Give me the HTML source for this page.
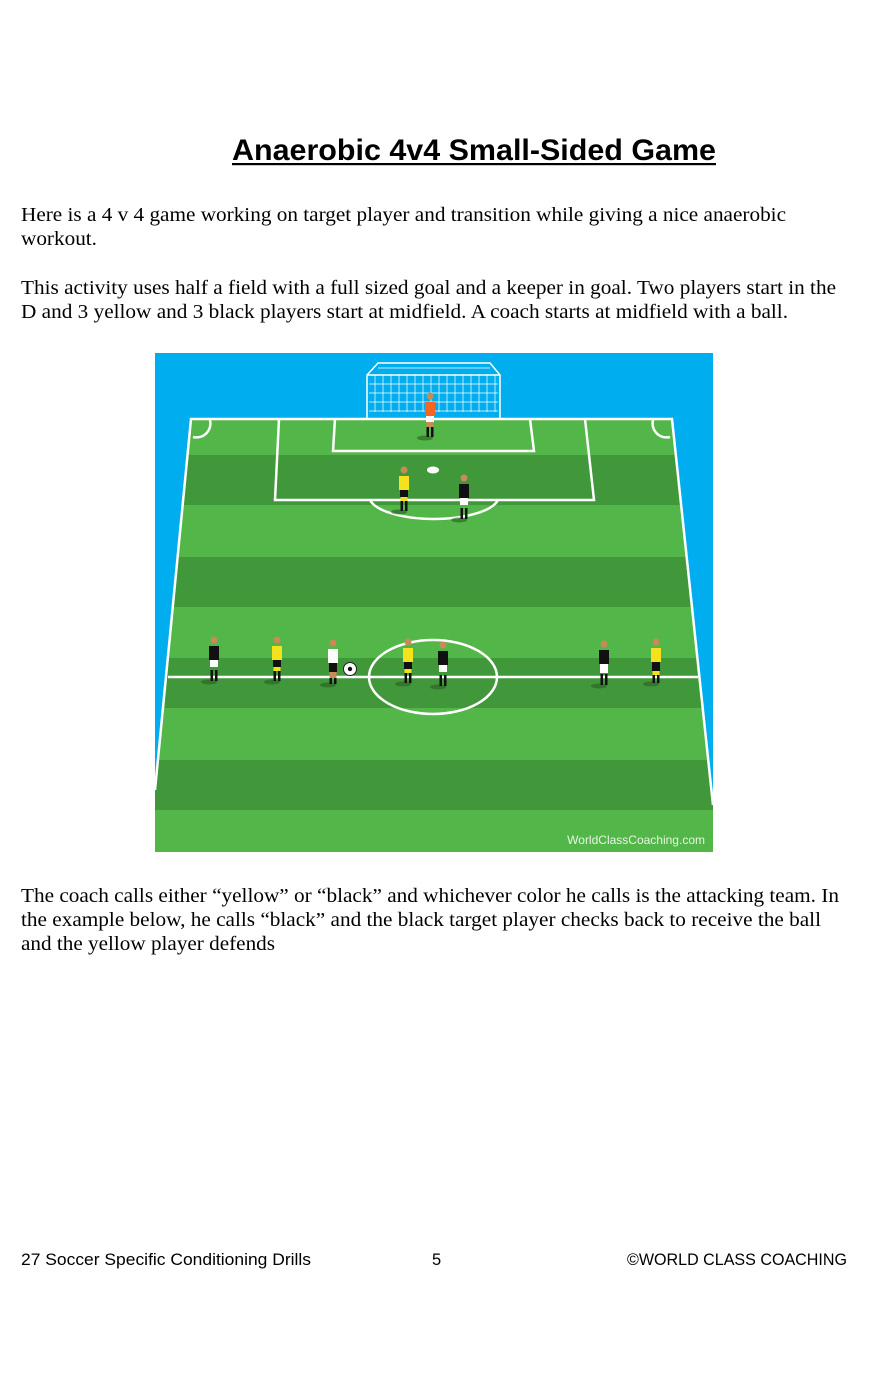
<!DOCTYPE html>
<html><head><meta charset="utf-8"><style>
html,body{margin:0;padding:0;background:#fff;width:891px;height:1400px;overflow:hidden}
svg{display:block}
</style></head><body>
<svg width="891" height="1400" viewBox="0 0 891 1400" xmlns="http://www.w3.org/2000/svg">
<defs>
<g id="pl">
 <ellipse cx="0" cy="2" rx="8" ry="2.5" fill="#2a5e22" opacity="0.6" transform="translate(-5,0)"/>
 <rect x="-3.5" y="-10" width="2.5" height="11" fill="#111"/>
 <rect x="1" y="-10" width="2.5" height="11" fill="#111"/>
 <circle cx="0" cy="-40" r="3.5" fill="#c98a5a"/>
</g>
</defs>
<rect width="891" height="1400" fill="#fff"/>
<!-- title -->
<text x="232" y="160" font-family="Liberation Sans, Arial, sans-serif" font-weight="bold" font-size="30" textLength="484" lengthAdjust="spacingAndGlyphs">Anaerobic 4v4 Small-Sided Game</text>
<rect x="232" y="163" width="484" height="2.2" fill="#000"/>
<g font-family="Liberation Serif, Times New Roman, serif" font-size="20" fill="#000">
<text x="21" y="221" textLength="765" lengthAdjust="spacingAndGlyphs">Here is a 4 v 4 game working on target player and transition while giving a nice anaerobic</text>
<text x="21" y="245" textLength="76" lengthAdjust="spacingAndGlyphs">workout.</text>
<text x="21" y="294" textLength="815" lengthAdjust="spacingAndGlyphs">This activity uses half a field with a full sized goal and a keeper in goal. Two players start in the</text>
<text x="21" y="318" textLength="767" lengthAdjust="spacingAndGlyphs">D and 3 yellow and 3 black players start at midfield. A coach starts at midfield with a ball.</text>
<text x="21" y="902" textLength="818" lengthAdjust="spacingAndGlyphs">The coach calls either “yellow” or “black” and whichever color he calls is the attacking team. In</text>
<text x="21" y="926" textLength="800" lengthAdjust="spacingAndGlyphs">the example below, he calls “black” and the black target player checks back to receive the ball</text>
<text x="21" y="950" textLength="254" lengthAdjust="spacingAndGlyphs">and the yellow player defends</text>
</g>
<g font-family="Liberation Sans, Arial, sans-serif" font-size="16.5" fill="#000">
<text x="21" y="1265" textLength="290" lengthAdjust="spacingAndGlyphs">27 Soccer Specific Conditioning Drills</text>
<text x="432" y="1265">5</text>
<text x="627" y="1265" textLength="220" lengthAdjust="spacingAndGlyphs">©WORLD CLASS COACHING</text>
</g>
<!-- field image -->
<rect x="155" y="353" width="558" height="499" fill="#00aeef"/>
<g>
<rect x="155" y="419" width="558" height="36" fill="#52b648"/>
<rect x="155" y="455" width="558" height="50" fill="#41983a"/>
<rect x="155" y="505" width="558" height="52" fill="#52b648"/>
<rect x="155" y="557" width="558" height="50" fill="#41983a"/>
<rect x="155" y="607" width="558" height="51" fill="#52b648"/>
<rect x="155" y="658" width="558" height="50" fill="#41983a"/>
<rect x="155" y="708" width="558" height="52" fill="#52b648"/>
<rect x="155" y="760" width="558" height="50" fill="#41983a"/>
<rect x="155" y="810" width="558" height="42" fill="#52b648"/>
</g>
<polygon points="155,419 191,419 155,790" fill="#00aeef"/>
<polygon points="713,419 672,419 713,805" fill="#00aeef"/>
<g fill="none" stroke="#fff" stroke-width="2.5">
<polyline points="155,790 191,419 672,419 713,805"/>
<polyline points="279,419 275,500 594,500 585,419"/>
<polyline points="335,419 333,451 534,451 530,419"/>
<path d="M370,500 A65 23 0 0 0 498,500"/>
<path d="M193,437 A14 14 0 0 0 210,420"/>
<path d="M653,420 A14 14 0 0 0 670,437"/>
<line x1="168" y1="677" x2="698" y2="677"/>
<ellipse cx="433" cy="677" rx="64" ry="37"/>
</g>
<!-- goal -->
<g fill="none" stroke="#fff" stroke-width="1.5">
<polyline points="367,419 367,375 378,363 490,363 500,375 500,419"/>
<line x1="367" y1="375" x2="500" y2="375"/>
<path d="M375,375V412M383,375V412M391,375V412M399,375V412M407,375V412M415,375V412M423,375V412M431,375V412M439,375V412M447,375V412M455,375V412M463,375V412M471,375V412M479,375V412M487,375V412M495,375V412" stroke-width="0.7"/>
<path d="M369,384H498M369,393H498M369,402H498M369,411H498M378,368H490" stroke-width="0.7"/>
</g>
<ellipse cx="433" cy="470" rx="6" ry="3.5" fill="#fff"/>
<!-- players -->
<g>
 <!-- keeper -->
 <g transform="translate(430,436)"><use href="#pl"/><rect x="-5" y="-34" width="10" height="14" fill="#f26522"/><rect x="-4" y="-20" width="8" height="6" fill="#fff"/><rect x="-3.5" y="-14" width="7" height="5" fill="#c98a5a"/></g>
 <g transform="translate(404,510)"><use href="#pl"/><rect x="-5" y="-34" width="10" height="14" fill="#f5e21c"/><rect x="-4" y="-20" width="8" height="7" fill="#111"/><rect x="-3.5" y="-13" width="7" height="4" fill="#f5e21c"/></g>
 <g transform="translate(464,518)"><use href="#pl"/><rect x="-5" y="-34" width="10" height="14" fill="#111"/><rect x="-4" y="-20" width="8" height="7" fill="#fff"/></g>
 <g transform="translate(214,680)"><use href="#pl"/><rect x="-5" y="-34" width="10" height="14" fill="#111"/><rect x="-4" y="-20" width="8" height="7" fill="#fff"/></g>
 <g transform="translate(277,680)"><use href="#pl"/><rect x="-5" y="-34" width="10" height="14" fill="#f5e21c"/><rect x="-4" y="-20" width="8" height="7" fill="#111"/><rect x="-3.5" y="-13" width="7" height="4" fill="#f5e21c"/></g>
 <g transform="translate(333,683)"><use href="#pl"/><rect x="-5" y="-34" width="10" height="14" fill="#fff"/><rect x="-4" y="-20" width="8" height="9" fill="#111"/><rect x="-3.5" y="-11" width="7" height="6" fill="#c98a5a"/></g>
 <circle cx="350" cy="669" r="6.5" fill="#fff" stroke="#222" stroke-width="1"/>
 <circle cx="350" cy="669" r="2.2" fill="#111"/>
 <g transform="translate(408,682)"><use href="#pl"/><rect x="-5" y="-34" width="10" height="14" fill="#f5e21c"/><rect x="-4" y="-20" width="8" height="7" fill="#111"/><rect x="-3.5" y="-13" width="7" height="4" fill="#f5e21c"/></g>
 <g transform="translate(443,685)"><use href="#pl"/><rect x="-5" y="-34" width="10" height="14" fill="#111"/><rect x="-4" y="-20" width="8" height="7" fill="#fff"/></g>
 <g transform="translate(604,684)"><use href="#pl"/><rect x="-5" y="-34" width="10" height="14" fill="#111"/><rect x="-4" y="-20" width="8" height="9" fill="#fff"/></g>
 <g transform="translate(656,682)"><use href="#pl"/><rect x="-5" y="-34" width="10" height="14" fill="#f5e21c"/><rect x="-4" y="-20" width="8" height="9" fill="#111"/><rect x="-3.5" y="-11" width="7" height="4" fill="#f5e21c"/></g>
</g>
<text x="705" y="844" text-anchor="end" font-family="Liberation Sans, Arial, sans-serif" font-size="12" fill="#e8f5e5">WorldClassCoaching.com</text>
</svg>
</body></html>
